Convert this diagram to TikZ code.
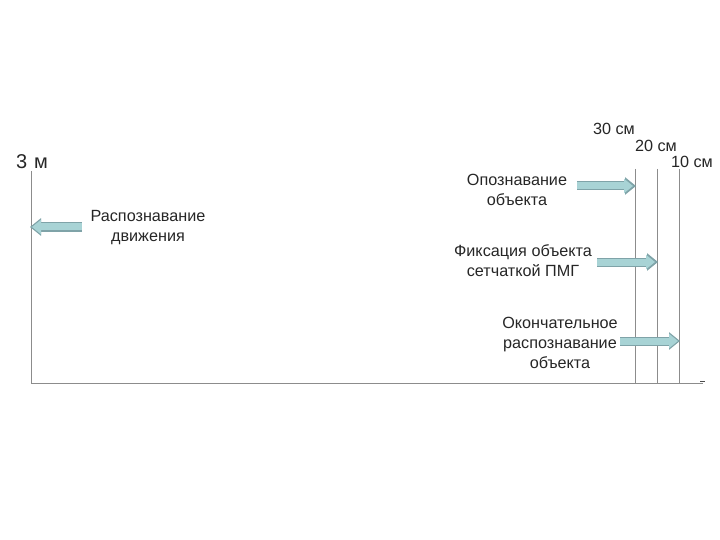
\documentclass[tikz,border=0pt]{standalone}
\usepackage{fontspec}
\setmainfont{Liberation Sans}
\usetikzlibrary{arrows.meta}

\definecolor{arrowfill}{HTML}{A8D3D5}
\definecolor{arrowline}{HTML}{7FA3A8}
\definecolor{axisgray}{HTML}{8C8C8C}

\tikzset{
  lbl/.style={align=center, inner sep=1pt, text=black!85, font=\fontsize{16.2}{20}\selectfont},
  flow/.style={line width=7pt, arrowfill, -{Triangle[length=9pt,width=14pt]},
    preaction={draw=arrowline, line width=9pt, -{Triangle[length=11pt,width=17pt]}, shorten >=-1pt}}
}

\begin{document}
\begin{tikzpicture}[x=1pt,y=-1pt]
\useasboundingbox (0,0) rectangle (720,540);

% Axis
\coordinate (origin) at (31,383);
\coordinate (axisend) at (703,383);
\draw[axisgray, line width=0.8pt] (31,171) -- (origin) -- (axisend);
\draw[black!70, line width=0.7pt] (700,381.5) -- (705,381.5);

% Distance lines
\foreach \x/\nm in {635/l30, 657/l20, 679/l10} {
    \coordinate (\nm) at (\x,169);
    \draw[axisgray, line width=0.8pt] (\nm) -- (\x,383);
}

% Distance labels
\node[lbl, font=\fontsize{20}{22}\selectfont] (dist3m) at (32,162) {3\,\,м};
\node[lbl] (d30) at (614,129) {30 см};
\node[lbl] (d20) at (656,146) {20 см};
\node[lbl] (d10) at (692,162) {10 см};

% Stages
\node[lbl] (motion) at (148,228) {Распознавание\\движения};
\node[lbl] (ident) at (517,190) {Опознавание\\объекта};
\node[lbl] (fixate) at (523,261) {Фиксация объекта\\сетчаткой ПМГ};
\node[lbl] (final) at (560,343) {Окончательное\\распознавание\\объекта};

% Arrow starts
\coordinate (motstart) at (82,227);
\coordinate (idstart) at (577,186);
\coordinate (fixstart) at (597,262);
\coordinate (finstart) at (620,341);

% Arrows
\draw[flow, shorten >=1pt] (motstart) -- (motstart -| origin);
\draw[flow, shorten >=2pt] (idstart) -- (idstart -| l30);
\draw[flow, shorten >=2pt] (fixstart) -- (fixstart -| l20);
\draw[flow, shorten >=1pt] (finstart) -- (finstart -| l10);

\end{tikzpicture}
\end{document}
